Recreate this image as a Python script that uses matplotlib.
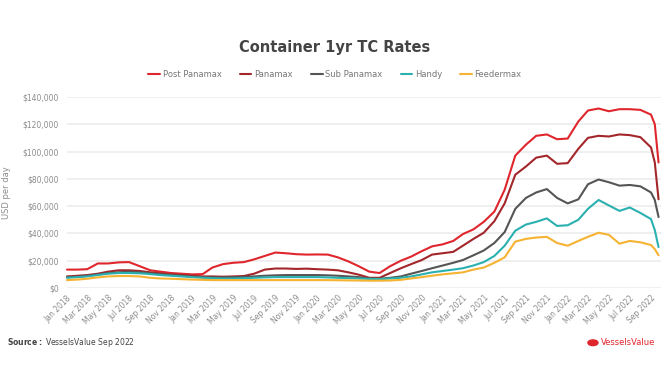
import numpy as np
import pandas as pd
import matplotlib
matplotlib.use('Agg')
import matplotlib.pyplot as plt
import matplotlib.dates as mdates
from matplotlib.patches import Circle

# monthly readings Jan 2018 - Sep 2022, plus two points in late Sep 2022
dates = pd.date_range('2018-01-01', '2022-09-01', freq='MS').append(
    pd.to_datetime(['2022-09-12', '2022-09-23']))

post_panamax = [13500, 13500, 13800, 18000, 18000, 18800, 19000, 16000, 13000, 12000,
                11000, 10500, 10000, 10200, 15000, 17500, 18500, 19000, 21000, 23500,
                26000, 25500, 24800, 24500, 24600, 24500, 22500, 19500, 16000, 12000,
                11000, 16000, 20000, 23000, 27000, 30500, 32000, 34500, 39500, 43000,
                48500, 56000, 72000, 97000, 105000, 111500, 112500, 109000, 109500, 122000,
                130000, 131500, 129500, 131000, 131000, 130500, 127000, 120000, 92000]
panamax = [8500, 9000, 9500, 10500, 12000, 13000, 13000, 12500, 11500, 10800,
           10000, 9500, 9000, 8500, 8500, 8300, 8500, 8800, 10500, 13500,
           14300, 14300, 14000, 14200, 13800, 13500, 13000, 11500, 9800, 7500,
           7500, 11000, 14500, 17500, 20500, 24500, 25500, 26500, 31000, 36000,
           40500, 49000, 62000, 83000, 89000, 95500, 97000, 91000, 91500, 102000,
           110000, 111500, 111000, 112500, 112000, 110500, 103000, 92000, 65000]
sub_panamax = [8000, 8300, 9000, 10000, 11000, 11500, 12000, 11500, 10800, 10000,
               9500, 9000, 8300, 8000, 7800, 7800, 8000, 8200, 8500, 9000,
               9300, 9500, 9500, 9500, 9500, 9300, 9000, 8500, 8000, 7000,
               6800, 7500, 8500, 10500, 12500, 14500, 16500, 18500, 20500, 24000,
               27500, 33000, 41000, 58000, 66000, 70000, 72500, 66000, 62000, 65000,
               76000, 79500, 77500, 75000, 75500, 74500, 70000, 64500, 52000]
handy = [7500, 8000, 8500, 9500, 10500, 11000, 11000, 10800, 10200, 9500,
         9000, 8500, 8000, 7500, 7200, 7000, 7000, 7200, 7500, 7800,
         8000, 8000, 8000, 8000, 8000, 7800, 7500, 7300, 7000, 6700,
         6600, 7000, 7500, 8500, 10000, 11500, 12500, 13500, 14500, 16500,
         19000, 23500, 31000, 42000, 46500, 48500, 51000, 45500, 46000, 50000,
         58000, 64500, 60500, 56500, 59000, 55000, 50500, 42500, 30000]
feedermax = [5800, 6200, 6800, 7800, 8500, 8800, 8800, 8500, 7500, 7000,
             6800, 6500, 6200, 6000, 5800, 5800, 5800, 5800, 5800, 5800,
             5800, 5800, 5800, 5800, 5800, 5800, 5700, 5600, 5500, 5400,
             5400, 5500, 6000, 7000, 8000, 9000, 10000, 10800, 11500, 13500,
             15000, 18500, 22500, 34000, 36000, 37000, 37500, 33000, 31000, 34500,
             37500, 40500, 39000, 32500, 34500, 33500, 31500, 28500, 24000]

series = [('Post Panamax', post_panamax, '#e0262d'),
          ('Panamax', panamax, '#a3262a'),
          ('Sub Panamax', sub_panamax, '#555555'),
          ('Handy', handy, '#2bb0b0'),
          ('Feedermax', feedermax, '#f6b331')]

txt = '#8c8c8c'

fig = plt.figure(figsize=(6.7, 3.8), dpi=100)
ax = fig.add_axes([0.1, 0.242, 0.887, 0.503])

for name, vals, col in series:
    ax.plot(dates, vals, color=col, lw=1.5, label=name, solid_capstyle='round')

ax.set_ylim(0, 140000)
ax.set_yticks(np.arange(0, 140001, 20000))
ax.yaxis.set_major_formatter(matplotlib.ticker.FuncFormatter(lambda v, p: '${:,.0f}'.format(v)))
ax.set_xlim(pd.Timestamp('2018-01-01'), pd.Timestamp('2022-10-01'))
ax.xaxis.set_major_locator(mdates.MonthLocator(bymonth=[1, 3, 5, 7, 9, 11]))
ax.xaxis.set_major_formatter(mdates.DateFormatter('%b %Y'))
plt.setp(ax.get_xticklabels(), rotation=45, ha='right', rotation_mode='anchor')
ax.tick_params(axis='both', length=0, labelsize=5.5, labelcolor=txt)
ax.tick_params(axis='x', pad=4)
ax.tick_params(axis='y', pad=6)
ax.grid(axis='y', color='#ececec', lw=1.2)
ax.set_axisbelow(True)
for s in ax.spines.values():
    s.set_visible(False)
for l in ax.get_lines():
    l.set_clip_on(False)
ax.set_ylabel('USD per day', fontsize=6, color=txt, labelpad=8)

fig.text(0.5, 0.875, 'Container 1yr TC Rates', ha='center', va='center',
         fontsize=10.5, color='#444444', fontweight='bold')
fig.legend(loc='center', bbox_to_anchor=(0.5, 0.803), ncol=5, frameon=False,
           fontsize=6, labelcolor='#777777', handlelength=1.4, handletextpad=0.3,
           columnspacing=2.2)

fig.text(0.01, 0.098, r'$\bf{Source:}$ VesselsValue Sep 2022', fontsize=5.5,
         color='#444444', va='center')
fig.text(0.897, 0.098, 'VesselsValue', fontsize=6, color='#e0262d',
         va='center', ha='left')
fig.patches.append(Circle((0.885, 0.098), 0.0075, transform=fig.transFigure,
                          facecolor='#e0262d', edgecolor='#e0262d', lw=1))

fig.savefig('out.png', dpi=100)
